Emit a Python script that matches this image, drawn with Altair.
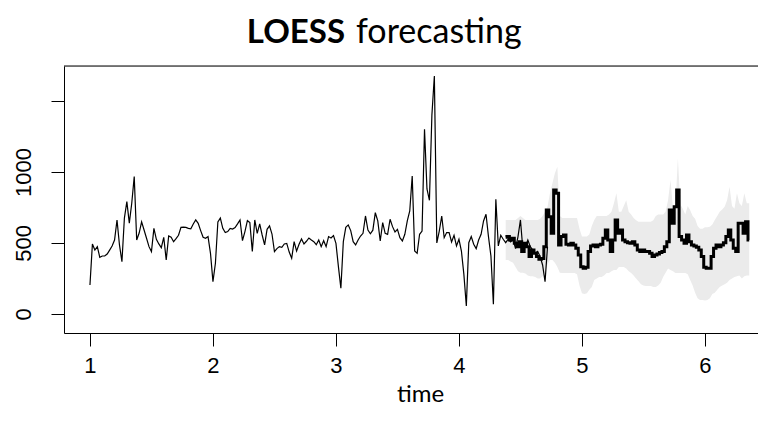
import altair as alt
import pandas as pd

# ---- data ----
t_start = 1.0
t_step = 0.02

hist_values = [
    204, 493, 450, 474, 399, 408, 408, 422, 450, 479, 521, 662, 486, 368, 675, 791, 640, 781, 967, 521,
    570, 648, 591, 533, 474, 439, 603, 526, 493, 467, 540, 380, 549, 540, 509, 530, 554, 610, 612, 610,
    603, 600, 634, 662, 638, 587, 540, 533, 545, 427, 228, 357, 648, 675, 603, 573, 580,
    603, 598, 608, 634, 662, 516, 580, 657, 643, 440, 662, 568, 634, 556, 486, 596, 620, 563, 439, 460,
    474, 469, 493, 497, 436, 392, 509, 443, 491, 528, 493, 512, 535, 521, 509, 488, 521, 474, 516, 474,
    545, 535, 552, 497, 333, 181, 509, 610, 627, 587, 509, 486, 521, 549, 568, 690, 591,
    565, 590, 713, 655, 514, 643, 568, 561, 667, 615, 577, 596, 537, 514, 561, 655, 725, 972, 443, 427,
    561, 584, 1300, 880, 800, 1400, 1676, 500, 584, 690, 537, 573, 573, 507, 554, 479, 526, 443, 279, 56,
    502, 545, 491, 460, 521, 561, 655, 702, 545, 408, 68, 807, 479, 554, 526, 502, 526, 507, 526,
    460, 545, 662, 450, 474, 521, 474, 450, 429, 440, 404, 345, 228, 474,
]

fc_start_index = 169
fc_values = [
    540, 545, 521, 533, 498, 474, 509, 439, 498, 474, 404, 450, 427, 404, 385, 390, 474, 732, 685, 568,
    873, 850, 486, 545, 556, 491, 486, 498, 486, 462, 415, 333, 322, 329, 439, 479, 486, 474, 486, 491,
    533, 591, 521, 439, 521, 662, 568, 591, 521, 509, 502, 498, 509, 486, 450, 439, 450, 439, 439, 427,
    404, 415, 422, 432, 439, 474, 509, 732, 638, 755, 873, 545, 521, 498, 556, 509, 486, 479, 469, 450,
    404, 329, 322, 322, 404, 462, 486, 474, 486, 502, 545, 591, 521, 462, 439, 638, 638, 568, 650, 521,
]
fc_upper = [
    662, 662, 662, 662, 662, 676, 690, 676, 662, 662, 662, 662, 662, 662, 670, 690, 720, 755, 850, 920,
    990, 1037, 690, 676, 676, 676, 676, 676, 676, 676, 600, 545, 545, 545, 560, 620, 662, 690, 690, 690,
    690, 690, 700, 720, 780, 850, 720, 720, 760, 800, 720, 700, 676, 660, 650, 650, 650, 650, 650, 650,
    660, 690, 700, 700, 700, 720, 800, 944, 740, 760, 1097, 770, 740, 700, 760, 730, 690, 670, 620, 600,
    600, 610, 610, 615, 630, 662, 690, 720, 735, 755, 800, 896, 760, 740, 850, 780, 760, 850, 780, 780,
]
fc_lower = [
    380, 380, 370, 360, 330, 300, 290, 290, 285, 270, 265, 265, 260, 250, 250, 265, 290, 350, 380, 380,
    360, 330, 290, 289, 289, 289, 289, 289, 289, 280, 200, 146, 140, 146, 170, 190, 240, 250, 260, 260,
    270, 289, 289, 300, 310, 310, 330, 330, 330, 320, 300, 289, 270, 250, 230, 210, 200, 197, 197, 197,
    190, 190, 200, 220, 260, 290, 320, 310, 300, 289, 289, 289, 289, 289, 280, 240, 200, 150, 110, 99,
    99, 95, 99, 110, 140, 150, 170, 190, 200, 210, 220, 240, 250, 260, 265, 270, 250, 265, 270, 270,
]

x_ticks = [1, 2, 3, 4, 5, 6]
y_ticks = [0, 500, 1000, 1500]
title_bold = "LOESS"
title_rest = "forecasting"
x_title = "time"

# ---- tables ----
hist_df = pd.DataFrame({
    "time": [t_start + t_step * i for i in range(len(hist_values))],
    "value": hist_values,
})
fc_df = pd.DataFrame({
    "time": [t_start + t_step * (fc_start_index + i) for i in range(len(fc_values))],
    "value": fc_values,
    "lower": fc_lower,
    "upper": fc_upper,
})

W, H = 694, 267
x_scale = alt.Scale(domain=[0.789, 0.789 + W / 123.0], nice=False, zero=False)
y_scale = alt.Scale(domain=[-134, 1746], nice=False, zero=False)

x_axis = alt.Axis(
    values=x_ticks, format="d", title=x_title, grid=False,
    tickSize=13, tickColor="black", tickWidth=1,
    domainColor="black", domainWidth=1,
    labelFont="Liberation Sans", labelFontSize=22, labelColor="black", labelPadding=9,
    titleFont="Lato", titleFontSize=24, titleFontWeight="normal", titleColor="black",
    titleX=356, titleY=68, titleAlign="center", titleBaseline="alphabetic",
)
y_axis = alt.Axis(
    values=y_ticks, format="d", title=None, grid=False,
    labelExpr="datum.value == 1500 ? '' : datum.label",
    tickSize=13, tickColor="black", tickWidth=1,
    domainColor="black", domainWidth=1,
    labelFont="Liberation Sans", labelFontSize=22, labelColor="black",
    labelAngle=270, labelPadding=16,
)

band = alt.Chart(fc_df).mark_area(color="#ebebeb", opacity=1).encode(
    x=alt.X("time:Q", scale=x_scale, axis=x_axis),
    y=alt.Y("lower:Q", scale=y_scale, axis=y_axis),
    y2="upper:Q",
)

hist_line = alt.Chart(hist_df).mark_line(color="black", strokeWidth=1.2).encode(
    x=alt.X("time:Q", scale=x_scale),
    y=alt.Y("value:Q", scale=y_scale),
)

fc_line = alt.Chart(fc_df).mark_line(color="black", strokeWidth=3, interpolate="step").encode(
    x=alt.X("time:Q", scale=x_scale),
    y=alt.Y("value:Q", scale=y_scale),
)

top_border = alt.Chart(pd.DataFrame({"b": [0]})).mark_rule(color="black", strokeWidth=1).encode(
    x=alt.value(0), x2=alt.value(W), y=alt.value(0),
)

title_df = pd.DataFrame({"bold": [title_bold], "rest": [title_rest]})
t1 = alt.Chart(title_df).mark_text(
    font="Lato", fontSize=33, fontWeight="bold", align="right", baseline="alphabetic", color="black"
).encode(x=alt.value(281), y=alt.value(-23), text="bold:N")
t2 = alt.Chart(title_df).mark_text(
    font="Lato", fontSize=34, fontWeight="normal", align="left", baseline="alphabetic", color="black"
).encode(x=alt.value(292), y=alt.value(-23), text="rest:N")

chart = alt.layer(band, hist_line, fc_line, top_border, t1, t2).properties(
    width=W, height=H,
    autosize=alt.AutoSizeParams(type="none"),
    padding={"left": 56, "top": 58, "right": 0, "bottom": 92},
).configure_view(stroke=None).configure(background="white")

chart.save("out.html", embed_options={"renderer": "svg", "actions": False})
